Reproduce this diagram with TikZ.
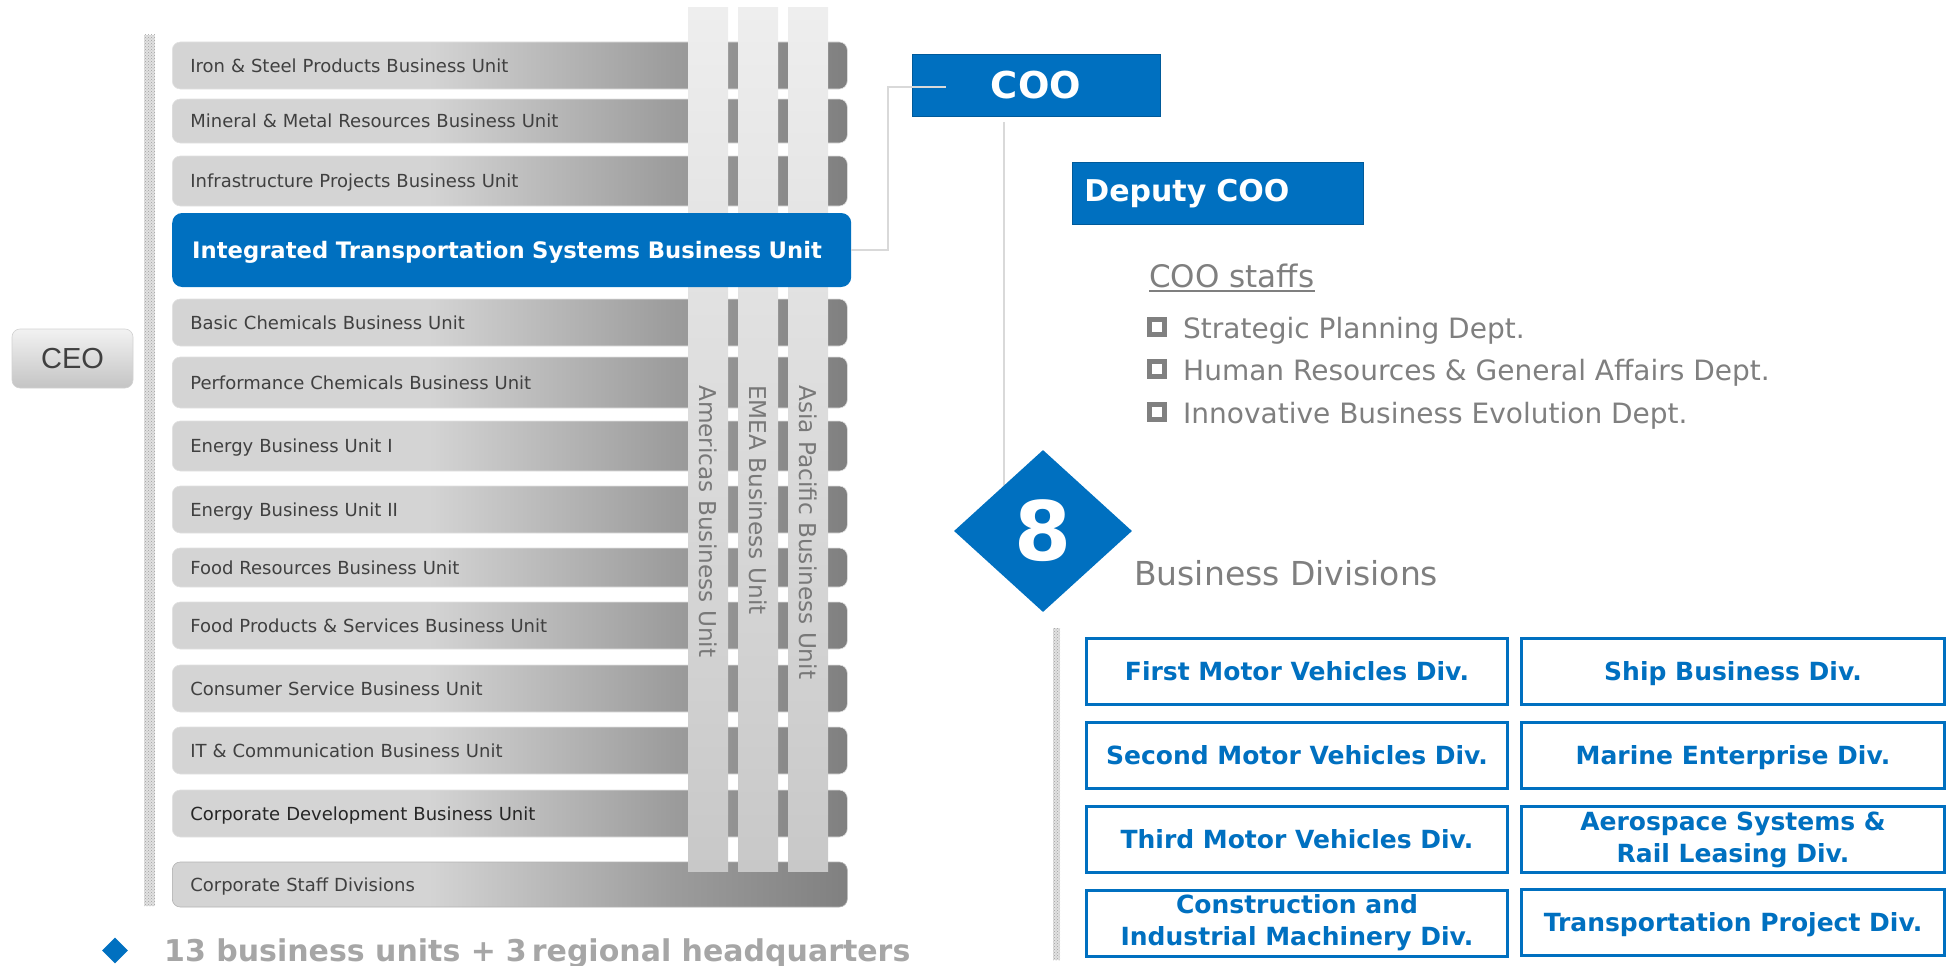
\documentclass[tikz,border=0pt]{standalone}
\usepackage{fontspec}
\setmainfont{DejaVu Sans}
\newfontfamily\arialf{Liberation Sans}
\usetikzlibrary{shapes.geometric,patterns}
\definecolor{mblue}{RGB}{0,112,192}
\definecolor{barL}{RGB}{212,212,212}
\definecolor{barM}{RGB}{156,156,156}
\definecolor{barR}{RGB}{128,128,128}
\definecolor{colT}{RGB}{238,238,238}
\definecolor{colB}{RGB}{200,200,200}
\definecolor{coltxt}{RGB}{120,120,120}
\definecolor{txtgray}{RGB}{64,64,64}
\definecolor{gtext}{RGB}{127,127,127}
\definecolor{gbul}{RGB}{128,128,128}
\definecolor{linegray}{RGB}{217,217,217}
\definecolor{dotbarbg}{RGB}{225,225,225}
\definecolor{dotbarfg}{RGB}{160,160,160}
\definecolor{bottomgray}{RGB}{166,166,166}
\definecolor{ceoT}{RGB}{242,242,242}
\definecolor{ceoB}{RGB}{196,196,196}
\pgfdeclarehorizontalshading{unitbarshade}{100bp}{color(0bp)=(barL); color(25bp)=(barL); color(44bp)=(barL); color(62bp)=(barM); color(75bp)=(barR); color(100bp)=(barR)}
\begin{document}
\begin{tikzpicture}[x=1pt,y=-1pt,
  every node/.style={inner sep=0pt},
  unitbar/.style={shade, shading=unitbarshade, draw=barL!70!white, line width=0.6pt, rounded corners=8pt, anchor=west, text width=639pt, inner xsep=18pt, inner ysep=0pt, align=left, text=txtgray, text height=13.1pt, text depth=0pt, font=\fontsize{18}{22}\selectfont},
  colbar/.style={top color=colT, bottom color=colB, minimum width=40pt, minimum height=863pt},
  coltext/.style={rotate=-90, anchor=west, text=coltxt, font=\fontsize{23.2}{28}\selectfont, text height=16.9pt, text depth=0pt},
  itsbar/.style={fill=mblue, rounded corners=10pt, anchor=west, text width=639pt, inner xsep=20pt, minimum height=74pt, align=left, text=white, font=\bfseries\fontsize{22.7}{27}\selectfont, text height=16.5pt, text depth=0pt},
  bluebox/.style={fill=mblue, draw=mblue!80!black, line width=0.8pt, text=white},
  conn/.style={draw=linegray, line width=2pt},
  sqb/.style={draw=gbul, line width=5pt, minimum size=15pt, fill=white},
  itemtext/.style={anchor=base west, text=gtext, font=\fontsize{28}{34}\selectfont},
  divbox/.style={draw=mblue, line width=3pt, fill=white, text=mblue, align=center, minimum height=66pt, font=\bfseries\fontsize{25}{32}\selectfont},
  oneline/.style={text height=18.2pt, text depth=0pt},
  dotbar/.style={fill=dotbarbg, postaction={pattern=crosshatch dots, pattern color=dotbarfg}},
  ceobox/.style={top color=ceoT, bottom color=ceoB, draw=gray!35, line width=0.6pt, rounded corners=8pt, minimum width=121pt, minimum height=59pt, text=txtgray, font=\arialf\fontsize{29}{34}\selectfont}
]
\useasboundingbox (0,0) rectangle (1952,966);

% left textured bar and CEO
\node[dotbar, minimum width=11pt, minimum height=871pt] (leftbar) at (149.5,470.5) {};
\node[ceobox] (ceo) at (72.5,358.5) {CEO};

% business unit bars
\foreach \t/\b/\txt/\nm in {
  42/89/{Iron \& Steel Products Business Unit}/ironsteel,
  99/143/{Mineral \& Metal Resources Business Unit}/mineral,
  156/206/{Infrastructure Projects Business Unit}/infra,
  299/346/{Basic Chemicals Business Unit}/basicchem,
  357/408/{Performance Chemicals Business Unit}/perfchem,
  421/471/{Energy Business Unit I}/energyone,
  486/533/{Energy Business Unit II}/energytwo,
  548/587/{Food Resources Business Unit}/foodres,
  602/649/{Food Products \& Services Business Unit}/foodprod,
  665/712/{Consumer Service Business Unit}/consumer,
  727/774/{IT \& Communication Business Unit}/itcomm}{
  \node[unitbar, minimum height={\b-\t}] (\nm) at (172,{(\t+\b)/2}) {\txt};
}
\node[unitbar, minimum height=47pt, text=black!85] (corpdev) at (172,813.5) {Corporate Development Business Unit};
\node[unitbar, minimum height=45pt, draw=gray!60] (corpstaff) at (172,884.5) {Corporate Staff Divisions};

% regional columns
\node[colbar] (americas) at (708,439.5) {};
\node[colbar] (emea) at (758,439.5) {};
\node[colbar] (asiapac) at (808,439.5) {};
\node[coltext] (americastxt) at (708,385) {Americas Business Unit};
\node[coltext] (emeatxt) at (758,385) {EMEA Business Unit};
\node[coltext] (asiapactxt) at (808,385) {Asia Pacific Business Unit};

% ITS unit
\node[itsbar] (its) at (172,250) {Integrated Transportation Systems Business Unit};

% COO
\node[bluebox, minimum width=248pt, minimum height=62pt, font=\bfseries\fontsize{37}{44}\selectfont] (coo) at (1036,85) {COO};
\coordinate (cooin) at (946,87);
\draw[conn] (its.east) -- ++(37,0) |- (cooin);
\coordinate (cootap) at (1004,122);
\coordinate (cooend) at (1004,532);
\draw[conn] (cootap) -- (cooend);

% Deputy COO
\node[bluebox, anchor=north west, minimum height=62pt, text width=267pt, inner xsep=12pt, align=left, font=\bfseries\fontsize{30}{36}\selectfont] (deputy) at (1072,162) {Deputy COO};

% COO staffs
\node[anchor=base west, text=gtext, font=\fontsize{31}{36}\selectfont] (staffs) at (1149,287) {COO staffs\ };
\draw[draw=gtext, line width=2pt] ([yshift=-4pt]staffs.base west) -- ([yshift=-4pt]staffs.base east);
\foreach \y/\txt/\nm in {338/{Strategic Planning Dept.}/strat, 380/{Human Resources \& General Affairs Dept.}/hr, 423/{Innovative Business Evolution Dept.}/innov}{
  \node[sqb] (\nm sq) at (1157,\y-11) {};
  \node[itemtext] (\nm) at (1183,\y) {\txt};
}

% 8 business divisions
\node[diamond, fill=mblue, minimum width=178pt, minimum height=162pt, text=white, font=\bfseries\fontsize{82}{90}\selectfont] (num) at (1043,531) {8};
\node[anchor=base west, text=gtext, font=\fontsize{33}{38}\selectfont] (bdiv) at (1134,585) {Business Divisions};
\node[dotbar, minimum width=7pt, minimum height=332pt] (rightbar) at (1056.5,794) {};

\node[divbox, oneline, minimum width=421pt] (first) at (1297,671) {First Motor Vehicles Div.};
\node[divbox, oneline, minimum width=423pt] (ship) at (1733,671) {Ship Business Div.};
\node[divbox, oneline, minimum width=421pt] (second) at (1297,755.5) {Second Motor Vehicles Div.};
\node[divbox, oneline, minimum width=423pt] (marine) at (1733,755.5) {Marine Enterprise Div.};
\node[divbox, oneline, minimum width=421pt] (third) at (1297,839) {Third Motor Vehicles Div.};
\node[divbox, minimum width=423pt] (aero) at (1733,839.5) {Aerospace Systems \&\\Rail Leasing Div.};
\node[divbox, minimum width=421pt] (constr) at (1297,923) {Construction and\\Industrial Machinery Div.};
\node[divbox, oneline, minimum width=423pt] (transp) at (1733,922) {Transportation Project Div.};

% bottom summary
\node[diamond, fill=mblue, minimum width=26pt, minimum height=26pt] (bul) at (115,950.5) {};
\node[anchor=base west, text=bottomgray, font=\bfseries\fontsize{30}{36}\selectfont] (summary) at (164,961) {13 business units +\hspace{10pt}3\hspace{5pt}regional headquarters};
\end{tikzpicture}
\end{document}
